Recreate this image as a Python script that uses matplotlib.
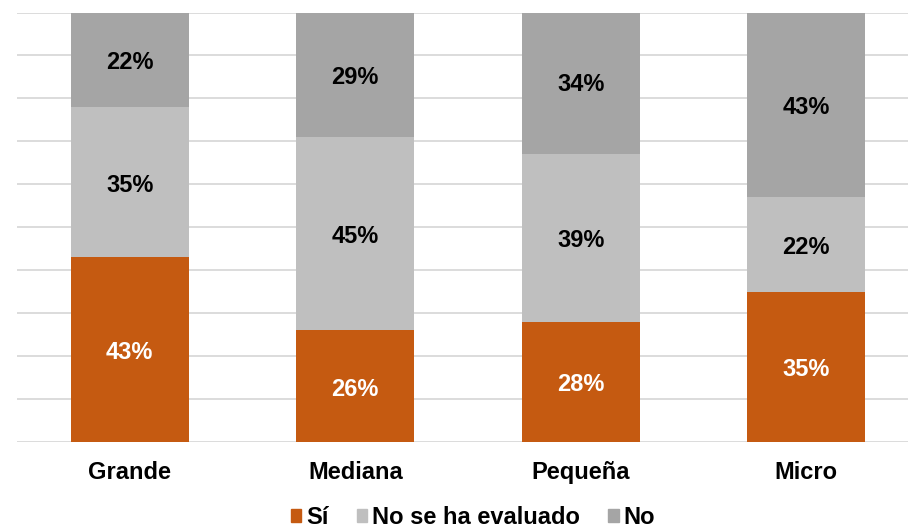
import matplotlib.pyplot as plt
import numpy as np
from matplotlib.patches import Patch
from matplotlib.transforms import offset_copy

plt.rcParams['font.family'] = ['Liberation Sans', 'DejaVu Sans']

# datos (porcentajes)
categorias = ["Grande", "Mediana", "Pequeña", "Micro"]
si = [43, 26, 28, 35]
no_evaluado = [35, 45, 39, 22]
no = [22, 29, 34, 43]

series = ["Sí", "No se ha evaluado", "No"]
colores = ["#C55A11", "#BFBFBF", "#A5A5A5"]
color_texto = ["white", "black", "black"]

fig = plt.figure(figsize=(9.08, 5.32), dpi=100)
ax = fig.add_axes([17 / 908, 90 / 532, 891 / 908, 429.5 / 532])

x = np.arange(len(categorias))
ancho = 0.523
abajo = np.zeros(len(categorias))
trans_txt = offset_copy(ax.transData, fig=fig, x=0, y=-3, units="dots")
for nombre, valores, color, ctexto in zip(series, [si, no_evaluado, no], colores, color_texto):
    vals = np.array(valores, dtype=float)
    ax.bar(x, vals, ancho, bottom=abajo, color=color, label=nombre, zorder=2)
    for xi, b, v in zip(x, abajo, vals):
        ax.text(xi, b + v / 2, f"{v:.0f}%", ha="center", va="center", color=ctexto,
                fontsize=17, fontweight="bold", transform=trans_txt, zorder=3)
    abajo += vals

ax.set_xlim(-0.5, -0.5 + 891 / 225.5)
ax.set_ylim(0, 100)
ax.set_yticks(np.arange(0, 101, 10))
ax.yaxis.grid(True, color="#D9D9D9", linewidth=1.3, zorder=0)
ax.set_axisbelow(True)
ax.tick_params(axis="y", left=False, labelleft=False)
ax.tick_params(axis="x", length=0, pad=13.5)
ax.set_xticks(x)
ax.set_xticklabels(categorias, fontsize=17, fontweight="bold")
for s in ax.spines.values():
    s.set_visible(False)

handles = [Patch(color=c) for c in colores]
fig.legend(handles, series, loc="center", bbox_to_anchor=(473 / 908, 14.5 / 532), ncol=3,
           frameon=False, handlelength=0.45, handleheight=0.45, handletextpad=0.2,
           columnspacing=1.2, borderpad=0.1, prop={"size": 17, "weight": "bold"})

fig.savefig("out.png", dpi=100)
